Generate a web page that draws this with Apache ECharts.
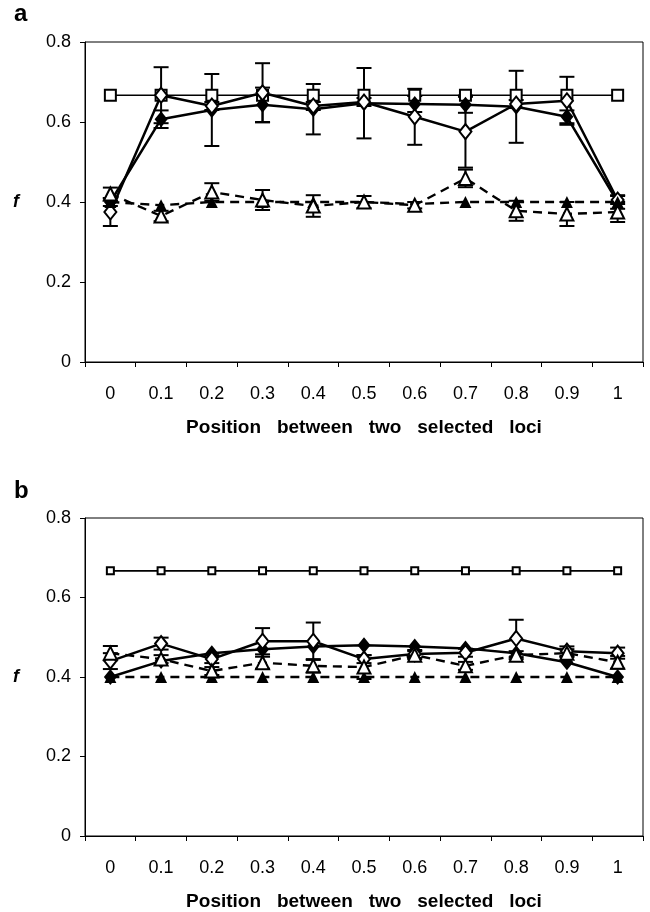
<!DOCTYPE html>
<html><head><meta charset="utf-8">
<script src="https://cdn.jsdelivr.net/npm/echarts@6/dist/echarts.min.js"></script>
<style>html,body{margin:0;padding:0;background:#fff}#c{width:650px;height:912px}</style>
</head><body><div id="c"></div>
<script>
// Categories (x-axis tick labels)
const categories = ['0','0.1','0.2','0.3','0.4','0.5','0.6','0.7','0.8','0.9','1'];
const panelLabels = ['a','b'];
const axisTitle = 'Position   between   two   selected   loci';
const yTitle = 'f';

// Panel a
const squareA         = [0.667,0.667,0.667,0.667,0.667,0.667,0.667,0.667,0.667,0.667,0.667];
const filledDiamondA  = [0.400,0.607,0.630,0.643,0.632,0.647,0.645,0.643,0.638,0.613,0.400];
const openDiamondA    = [0.375,0.667,0.640,0.673,0.640,0.650,0.613,0.576,0.645,0.653,0.405];
const filledTriangleA = [0.400,0.392,0.400,0.400,0.400,0.400,0.395,0.400,0.400,0.400,0.400];
const openTriangleA   = [0.420,0.365,0.425,0.405,0.390,0.400,0.392,0.459,0.378,0.370,0.375];
const filledDiamondErrA = [0.010,0.022,0.090,0.043,0.063,0.088,0.020,0.020,0.090,0.016,0.017];
const openDiamondErrA   = [0.035,0.070,0.010,0.074,0.010,0.010,0.070,0.090,0.010,0.060,0.010];
const openTriangleErrA  = [0.016,0.013,0.022,0.025,0.027,0.015,0.008,0.022,0.025,0.030,0.025];

// Panel b
const squareB         = [0.667,0.667,0.667,0.667,0.667,0.667,0.667,0.667,0.667,0.667,0.667];
const filledDiamondB  = [0.400,0.440,0.460,0.470,0.477,0.480,0.477,0.472,0.460,0.437,0.400];
const openDiamondB    = [0.440,0.484,0.445,0.490,0.490,0.445,0.458,0.461,0.497,0.465,0.460];
const filledTriangleB = [0.400,0.400,0.400,0.400,0.400,0.400,0.400,0.400,0.400,0.400,0.400];
const openTriangleB   = [0.460,0.445,0.415,0.436,0.428,0.425,0.455,0.428,0.455,0.460,0.437];
const openDiamondErrB  = [0.020,0.015,0.010,0.033,0.047,0.010,0.010,0.010,0.047,0.012,0.014];
const openTriangleErrB = [0.018,0.010,0.010,0.015,0.017,0.030,0.010,0.010,0.010,0.010,0.016];

const chart = echarts.init(document.getElementById('c'));
const FONT = "'Liberation Sans', Arial, sans-serif";

function errSeries(vals, errs, ax){
  const data = [];
  vals.forEach((v,i)=>{ if (errs[i] > 0) data.push([i, v - errs[i], v + errs[i]]); });
  return {
    type:'custom', xAxisIndex:ax, yAxisIndex:ax, z:2, silent:true, data,
    encode:{x:0, y:[1,2]},
    renderItem(params, api){
      const x = api.value(0);
      const lo = api.coord([x, api.value(1)]);
      const hi = api.coord([x, api.value(2)]);
      const w = 7.5, st = {stroke:'#000', lineWidth:2};
      return {type:'group', children:[
        {type:'line', shape:{x1:lo[0],y1:lo[1],x2:hi[0],y2:hi[1]}, style:st},
        {type:'line', shape:{x1:lo[0]-w,y1:lo[1],x2:lo[0]+w,y2:lo[1]}, style:st},
        {type:'line', shape:{x1:hi[0]-w,y1:hi[1],x2:hi[0]+w,y2:hi[1]}, style:st}
      ]};
    }
  };
}
function lineSeries(vals, ax, sym, size, filled, lw, dashed, z){
  return {
    type:'line', xAxisIndex:ax, yAxisIndex:ax, data:vals, z:z,
    symbol:sym, symbolSize:size, showAllSymbol:true, silent:true, animation:false,
    lineStyle:{color:'#000', width:lw, type: dashed ? [9,6] : 'solid'},
    itemStyle:{color: filled ? '#000' : '#fff', borderColor:'#000', borderWidth: filled ? 0 : 2}
  };
}

function xAxis(gi){
  return {
    type:'category', gridIndex:gi, data:categories, boundaryGap:true,
    axisLine:{lineStyle:{color:'#000', width:1}},
    axisTick:{show:true, length:5, lineStyle:{color:'#000'}},
    axisLabel:{color:'#000', fontFamily:FONT, fontSize:18, margin:23},
    name: axisTitle, nameLocation:'middle', nameGap:56,
    nameTextStyle:{color:'#000', fontFamily:FONT, fontSize:19, fontWeight:'bold'}
  };
}
function yAxis(gi){
  return {
    type:'value', gridIndex:gi, min:0, max:0.8, interval:0.2,
    axisLine:{show:true, lineStyle:{color:'#000', width:1}},
    axisTick:{show:true, length:5, lineStyle:{color:'#000'}},
    splitLine:{show:false},
    axisLabel:{color:'#000', fontFamily:FONT, fontSize:18, margin:14},
    name: yTitle, nameLocation:'middle', nameGap:66, nameRotate:0,
    nameTextStyle:{color:'#000', fontFamily:FONT, fontSize:18, fontWeight:'bold', fontStyle:'italic'}
  };
}

const option = {
  animation:false,
  backgroundColor:'#fff',
  title:[
    {text:panelLabels[0], left:14, top:2, padding:0, textStyle:{fontFamily:FONT, fontSize:24, fontWeight:'bold', color:'#000'}},
    {text:panelLabels[1], left:14, top:479, padding:0, textStyle:{fontFamily:FONT, fontSize:24, fontWeight:'bold', color:'#000'}}
  ],
  grid:[
    {left:85, top:42, width:558, height:320, show:true, borderColor:'#000', borderWidth:1, backgroundColor:'#fff'},
    {left:85, top:518, width:558, height:321, show:true, borderColor:'#000', borderWidth:1, backgroundColor:'#fff'}
  ],
  xAxis:[xAxis(0), xAxis(1)],
  yAxis:[yAxis(0), yAxis(1)],
  series:[
    errSeries(filledDiamondA, filledDiamondErrA, 0),
    errSeries(openDiamondA, openDiamondErrA, 0),
    errSeries(openTriangleA, openTriangleErrA, 0),
    lineSeries(squareA, 0, 'rect', 11, false, 1.6, false, 3),
    lineSeries(filledDiamondA, 0, 'diamond', [13,16], true, 2.5, false, 4),
    lineSeries(openDiamondA, 0, 'diamond', [12,15], false, 2.5, false, 5),
    lineSeries(filledTriangleA, 0, 'triangle', 12, true, 2.4, true, 6),
    lineSeries(openTriangleA, 0, 'triangle', 13, false, 2.4, true, 7),

    errSeries(openDiamondB, openDiamondErrB, 1),
    errSeries(openTriangleB, openTriangleErrB, 1),
    lineSeries(squareB, 1, 'rect', 7, false, 1.6, false, 3),
    lineSeries(filledDiamondB, 1, 'diamond', [13,16], true, 2.5, false, 4),
    lineSeries(openDiamondB, 1, 'diamond', [12,15], false, 2.5, false, 5),
    lineSeries(filledTriangleB, 1, 'triangle', 12, true, 2.4, true, 6),
    lineSeries(openTriangleB, 1, 'triangle', 13, false, 2.4, true, 7)
  ]
};
chart.setOption(option);
</script>
</body></html>
